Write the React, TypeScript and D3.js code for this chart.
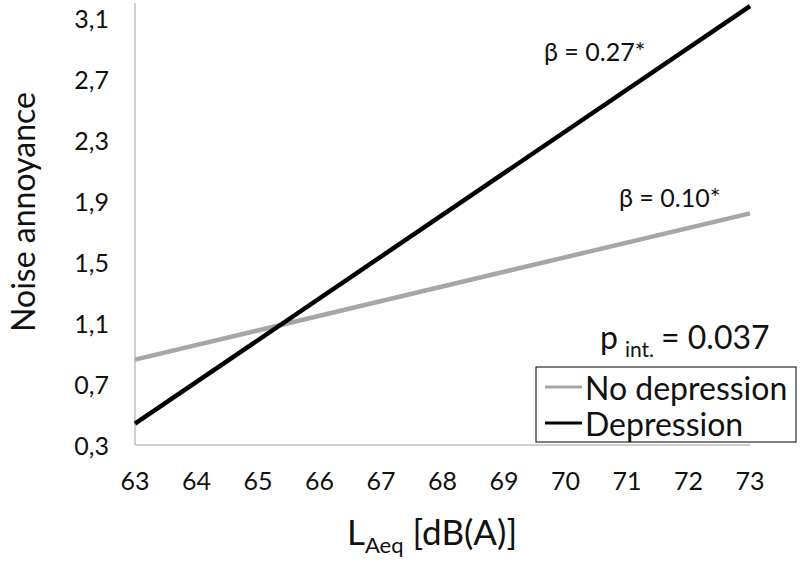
import React from "react";
import * as d3 from "d3";

const xTicks = [63, 64, 65, 66, 67, 68, 69, 70, 71, 72, 73];
const yTicks = [0.3, 0.7, 1.1, 1.5, 1.9, 2.3, 2.7, 3.1];
const xValues = [63, 73];
const noDepression = [0.86, 1.82];
const depression = [0.44, 3.18];
const seriesNames = ["No depression", "Depression"];
const betaLabels = ["β = 0.10*", "β = 0.27*"];

const W = 800;
const H = 562;
const FONT = "Lato, 'Open Sans', sans-serif";

export default function App() {
  const x = d3.scaleLinear().domain([63, 73]).range([135, 750]);
  const y = d3.scaleLinear().domain([0.3, 3.2]).range([445, 3]);
  const line = d3
    .line<[number, number]>()
    .x((d) => x(d[0]))
    .y((d) => y(d[1]));
  const fmt = (v: number) => v.toFixed(1).replace(".", ",");
  const series = [
    { name: seriesNames[0], values: noDepression, color: "#a6a6a6" },
    { name: seriesNames[1], values: depression, color: "#000000" },
  ];
  const axisColor = "#bfbfbf";
  const txt = "#111";

  return (
    <svg
      width={W}
      height={H}
      style={{ position: "absolute", left: 0, top: 0, background: "#fff" }}
      fontFamily={FONT}
    >
      <rect x={0} y={0} width={W} height={H} fill="#fff" />
      <line x1={x(63)} x2={x(63)} y1={y(3.2)} y2={y(0.3)} stroke={axisColor} strokeWidth={1.5} />
      <line x1={x(63)} x2={x(73)} y1={y(0.3)} y2={y(0.3)} stroke={axisColor} strokeWidth={1.5} />
      {yTicks.map((t) => (
        <text
          key={"y" + t}
          x={109}
          y={y(t)}
          textAnchor="end"
          dominantBaseline="central"
          fontSize={25}
          fill={txt}
        >
          {fmt(t)}
        </text>
      ))}
      {xTicks.map((t) => (
        <text
          key={"x" + t}
          x={x(t)}
          y={480}
          textAnchor="middle"
          dominantBaseline="central"
          fontSize={25}
          fill={txt}
        >
          {t}
        </text>
      ))}
      {series.map((s) => (
        <path
          key={s.name}
          d={line(xValues.map((v, i) => [v, s.values[i]] as [number, number])) || ""}
          fill="none"
          stroke={s.color}
          strokeWidth={4.5}
        />
      ))}
      <text x={619} y={207} fontSize={25} fill={txt}>
        {betaLabels[0]}
      </text>
      <text x={544} y={61} fontSize={25} fill={txt}>
        {betaLabels[1]}
      </text>
      <text x={600} y={349} fontSize={32} fill={txt}>
        p
        <tspan fontSize={21} dx={7} dy={8}>
          int.
        </tspan>
        <tspan dx={7} dy={-8}>
          = 0.037
        </tspan>
      </text>
      <rect x={536} y={367} width={260} height={75} fill="#fff" stroke="#000" strokeWidth={1} />
      {series.map((s, i) => (
        <g key={"lg" + s.name}>
          <line
            x1={545}
            x2={582}
            y1={387 + i * 36}
            y2={387 + i * 36}
            stroke={s.color}
            strokeWidth={3}
          />
          <text
            x={585}
            y={387 + i * 36}
            dominantBaseline="central"
            fontSize={32}
            fill={txt}
          >
            {s.name}
          </text>
        </g>
      ))}
      <text
        transform={`translate(22, 212) rotate(-90)`}
        textAnchor="middle"
        dominantBaseline="central"
        fontSize={32}
        fill={txt}
      >
        Noise annoyance
      </text>
      <text x={347} y={545} fontSize={35} fill={txt}>
        L
        <tspan fontSize={22} dy={8}>
          Aeq
        </tspan>
        <tspan dx={9} dy={-8}>
          [dB(A)]
        </tspan>
      </text>
    </svg>
  );
}
